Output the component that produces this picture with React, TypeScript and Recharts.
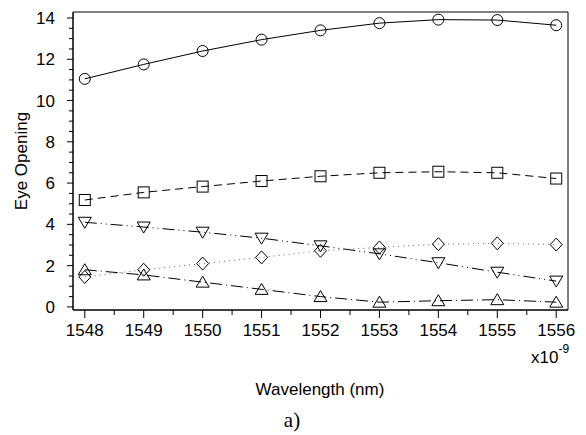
import { LineChart, Line, XAxis, YAxis, ReferenceArea } from 'recharts';

// wavelength (x1e-9 m) and eye opening per curve
const wavelengths = [1548, 1549, 1550, 1551, 1552, 1553, 1554, 1555, 1556];
const circleSeries = [11.05, 11.75, 12.4, 12.95, 13.4, 13.75, 13.92, 13.9, 13.65];
const squareSeries = [5.18, 5.55, 5.83, 6.1, 6.33, 6.5, 6.55, 6.5, 6.22];
const downTriSeries = [4.1, 3.87, 3.62, 3.33, 2.96, 2.57, 2.14, 1.68, 1.25];
const diamondSeries = [1.45, 1.8, 2.1, 2.4, 2.72, 2.88, 3.04, 3.08, 3.02];
const upTriSeries = [1.8, 1.55, 1.2, 0.85, 0.5, 0.23, 0.3, 0.35, 0.23];

const xMajorTicks = [1548, 1549, 1550, 1551, 1552, 1553, 1554, 1555, 1556];
const yMajorTicks = [0, 2, 4, 6, 8, 10, 12, 14];

const xDomain = [1547.8, 1556.2];
const yDomain = [-0.15, 14.29];

// minor ticks between the labelled ones
const xTicks = xMajorTicks.flatMap((v, i) => (i < xMajorTicks.length - 1 ? [v, v + 0.5] : [v]));
const yTicks = yMajorTicks.flatMap((v, i) => (i < yMajorTicks.length - 1 ? [v, v + 0.5, v + 1, v + 1.5] : [v]));

const data = wavelengths.map((x, i) => ({
  x,
  circle: circleSeries[i],
  square: squareSeries[i],
  downTri: downTriSeries[i],
  diamond: diamondSeries[i],
  upTri: upTriSeries[i],
}));

const FONT = '"Liberation Sans", Arial, sans-serif';

const XTick = ({ x, y, payload }: any) => {
  const major = Number.isInteger(payload.value);
  return (
    <g>
      <line x1={x} x2={x} y1={y} y2={y + (major ? 8 : 5)} stroke="#000" />
      {major && (
        <text x={x} y={y + 26} textAnchor="middle" fontSize={17} fontFamily={FONT} fill="#000">
          {payload.value}
        </text>
      )}
    </g>
  );
};

const YTick = ({ x, y, payload }: any) => {
  const major = Number.isInteger(payload.value / 2);
  return (
    <g>
      <line x1={x - (major ? 6 : 4)} x2={x} y1={y} y2={y} stroke="#000" />
      {major && (
        <text x={x - 18} y={y + 6} textAnchor="end" fontSize={17} fontFamily={FONT} fill="#000">
          {payload.value}
        </text>
      )}
    </g>
  );
};

const CircleDot = (p: any) => <circle key={p.index} cx={p.cx} cy={p.cy} r={5.5} fill="none" stroke="#000" />;
const SquareDot = (p: any) => (
  <rect key={p.index} x={p.cx - 5.5} y={p.cy - 5.5} width={11} height={11} fill="none" stroke="#000" />
);
const DownTriDot = (p: any) => (
  <path
    key={p.index}
    d={`M${p.cx - 6.5},${p.cy - 5} L${p.cx + 6.5},${p.cy - 5} L${p.cx},${p.cy + 6} Z`}
    fill="none"
    stroke="#000"
  />
);
const UpTriDot = (p: any) => (
  <path
    key={p.index}
    d={`M${p.cx - 6.5},${p.cy + 5} L${p.cx + 6.5},${p.cy + 5} L${p.cx},${p.cy - 6} Z`}
    fill="none"
    stroke="#000"
  />
);
const DiamondDot = (p: any) => (
  <path
    key={p.index}
    d={`M${p.cx},${p.cy - 6.5} L${p.cx + 6},${p.cy} L${p.cx},${p.cy + 6.5} L${p.cx - 6},${p.cy} Z`}
    fill="none"
    stroke="#000"
  />
);

export default function App() {
  return (
    <div style={{ position: 'absolute', left: 0, top: 0, width: 586, height: 435, background: '#fff' }}>
      <LineChart width={586} height={435} data={data} margin={{ top: 12, right: 18, left: 0, bottom: 0 }}>
        <XAxis
          type="number"
          dataKey="x"
          domain={xDomain}
          ticks={xTicks}
          interval={0}
          tickSize={0}
          tickMargin={0}
          tick={<XTick />}
          height={125}
          axisLine={{ stroke: '#000' }}
        />
        <YAxis
          type="number"
          domain={yDomain}
          ticks={yTicks}
          interval={0}
          tickSize={0}
          tickMargin={0}
          tick={<YTick />}
          width={73}
          axisLine={{ stroke: '#000' }}
        />
        <ReferenceArea
          x1={xDomain[0]}
          x2={xDomain[1]}
          y1={yDomain[0]}
          y2={yDomain[1]}
          fill="none"
          fillOpacity={0}
          stroke="#000"
          strokeOpacity={1}
        />
        <Line dataKey="circle" stroke="#000" strokeWidth={1} dot={CircleDot} isAnimationActive={false} />
        <Line
          dataKey="square"
          stroke="#000"
          strokeWidth={1}
          strokeDasharray="8 5"
          dot={SquareDot}
          isAnimationActive={false}
        />
        <Line
          dataKey="downTri"
          stroke="#000"
          strokeWidth={1}
          strokeDasharray="12 4 1 4 1 4"
          dot={DownTriDot}
          isAnimationActive={false}
        />
        <Line
          dataKey="diamond"
          stroke="#666"
          strokeWidth={1}
          strokeDasharray="1 4"
          dot={DiamondDot}
          isAnimationActive={false}
        />
        <Line
          dataKey="upTri"
          stroke="#000"
          strokeWidth={1}
          strokeDasharray="12 4 1 4"
          dot={UpTriDot}
          isAnimationActive={false}
        />
      </LineChart>
      <div
        style={{
          position: 'absolute',
          left: 22,
          top: 161,
          transform: 'translate(-50%, -50%) rotate(-90deg)',
          fontFamily: FONT,
          fontSize: 17,
          whiteSpace: 'nowrap',
        }}
      >
        Eye Opening
      </div>
      <div style={{ position: 'absolute', left: 531, top: 348, fontFamily: FONT, fontSize: 17, whiteSpace: 'nowrap' }}>
        x10<sup style={{ fontSize: 12, verticalAlign: 'top', position: 'relative', top: -6 }}>-9</sup>
      </div>
      <div
        style={{
          position: 'absolute',
          left: 320,
          top: 390,
          transform: 'translate(-50%, -50%)',
          fontFamily: FONT,
          fontSize: 17,
          whiteSpace: 'nowrap',
        }}
      >
        Wavelength (nm)
      </div>
      <div
        style={{
          position: 'absolute',
          left: 292,
          top: 420,
          transform: 'translate(-50%, -50%)',
          fontFamily: '"Liberation Serif", "Times New Roman", serif',
          fontSize: 21,
          whiteSpace: 'nowrap',
        }}
      >
        a)
      </div>
    </div>
  );
}
